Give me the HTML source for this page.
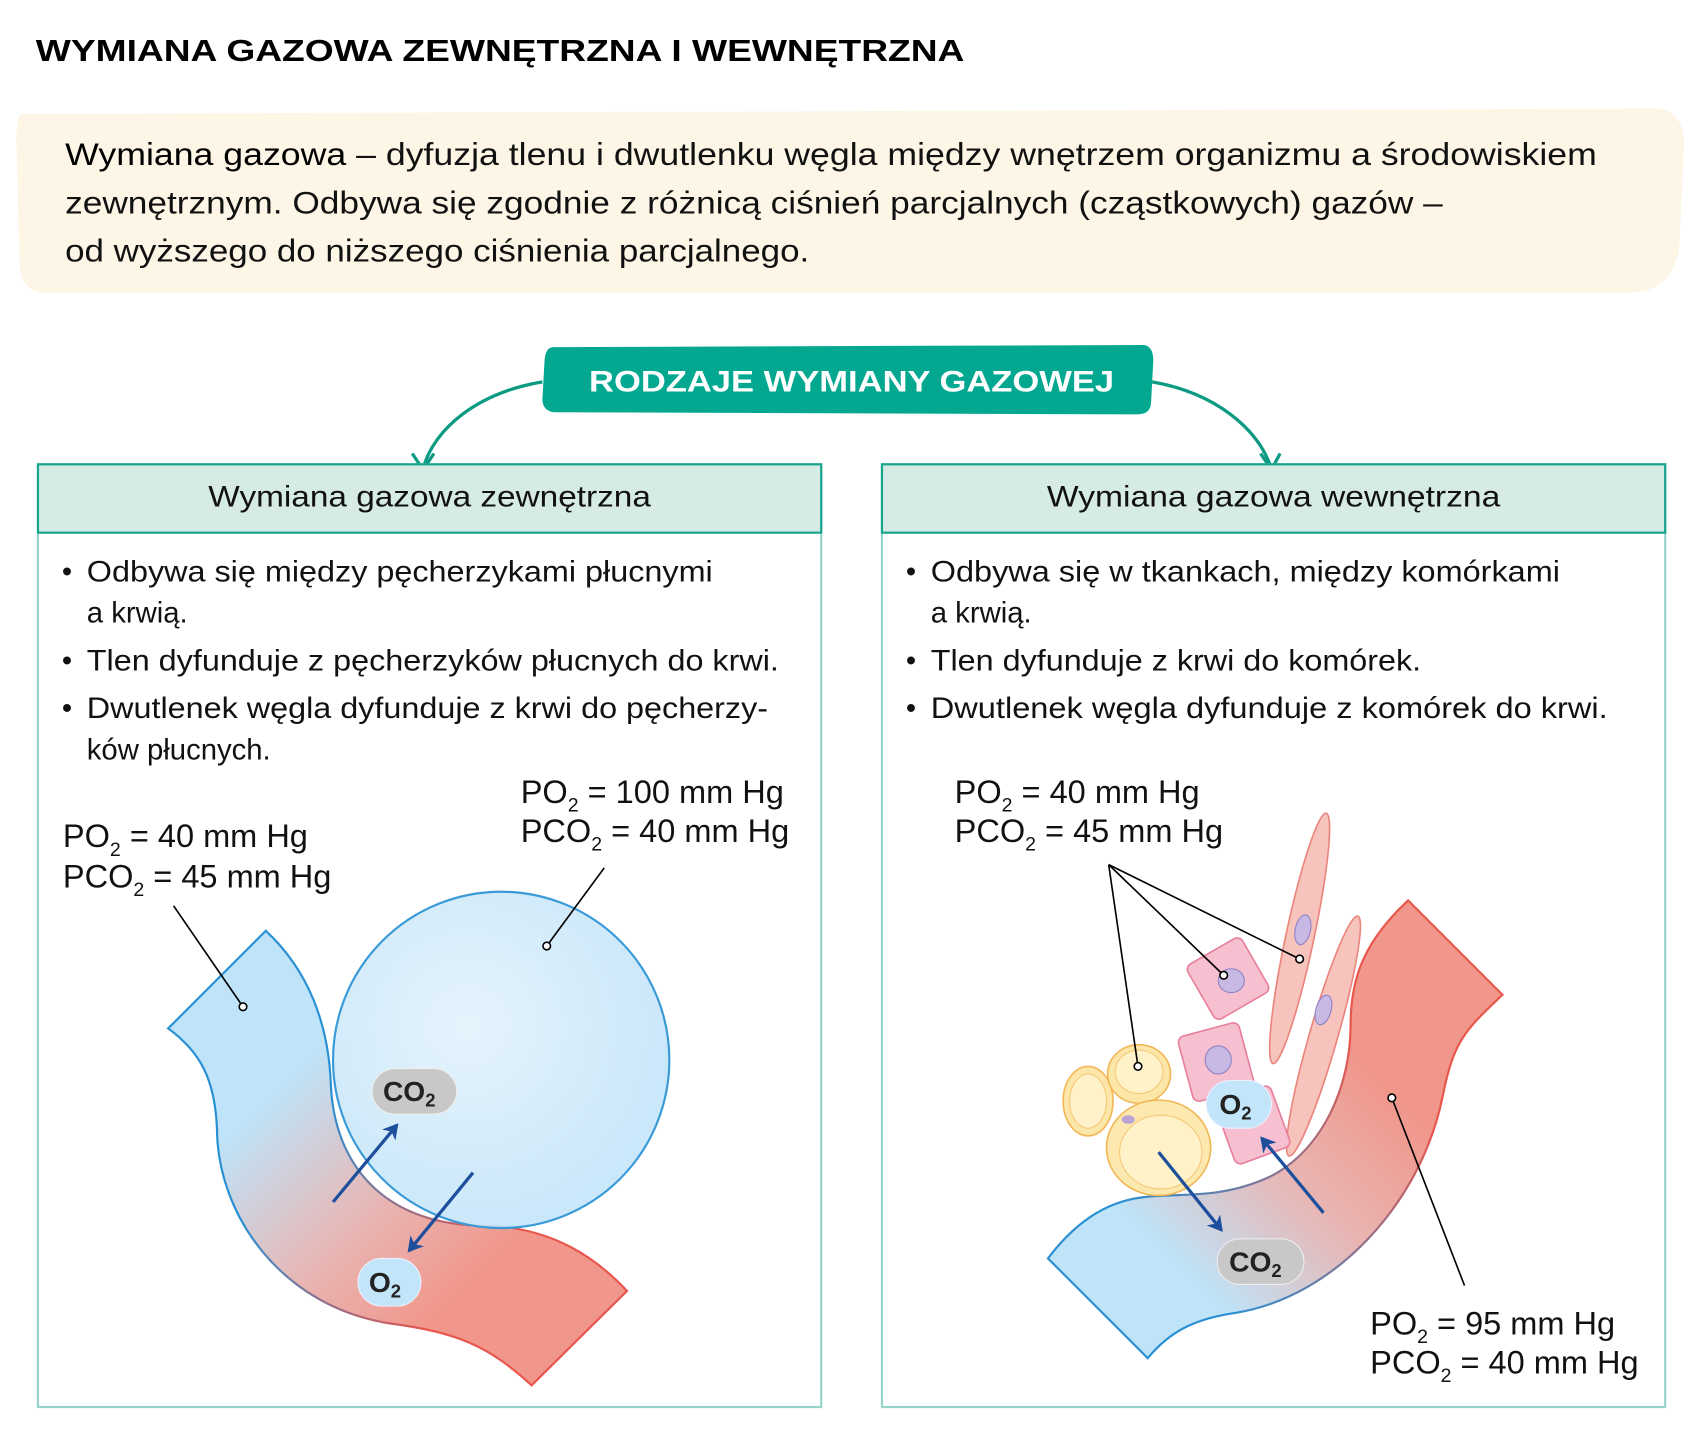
<!DOCTYPE html>
<html><head><meta charset="utf-8"><style>
html,body{margin:0;padding:0;background:#fff;}
svg{display:block;}
text{font-family:"Liberation Sans",sans-serif;}
</style></head><body>
<svg width="1701" height="1450" viewBox="0 0 1568 1336.6" xmlns="http://www.w3.org/2000/svg">
<defs>
<linearGradient id="gL" gradientUnits="userSpaceOnUse" x1="240" y1="1020" x2="420" y2="1200">
<stop offset="0" stop-color="#bfe3f8"/><stop offset="0.55" stop-color="#e8b6b4"/><stop offset="1" stop-color="#f1968a"/></linearGradient>
<linearGradient id="gLs" gradientUnits="userSpaceOnUse" x1="240" y1="1100" x2="400" y2="1220">
<stop offset="0" stop-color="#2a90d4"/><stop offset="1" stop-color="#e8564c"/></linearGradient>
<linearGradient id="gR" gradientUnits="userSpaceOnUse" x1="1110" y1="1190" x2="1290" y2="1010">
<stop offset="0" stop-color="#bfe3f8"/><stop offset="0.5" stop-color="#e8b6b4"/><stop offset="1" stop-color="#f1968a"/></linearGradient>
<linearGradient id="gRs" gradientUnits="userSpaceOnUse" x1="1110" y1="1190" x2="1290" y2="1010">
<stop offset="0" stop-color="#2a90d4"/><stop offset="1" stop-color="#e8564c"/></linearGradient>
<radialGradient id="gC" cx="0.4" cy="0.4" r="0.6"><stop offset="0" stop-color="#e2f2fc"/><stop offset="1" stop-color="#c5e5f9"/></radialGradient>
<marker id="ah2" markerWidth="16" markerHeight="16" refX="12" refY="8" orient="auto" markerUnits="userSpaceOnUse"><path d="M0,0 L14,8 L0,16 L4,8 Z" fill="#1d4f9c"/></marker>
</defs>

<text x="33" y="56" font-size="28" font-weight="bold" fill="#000" textLength="856" lengthAdjust="spacingAndGlyphs">WYMIANA GAZOWA ZEWNĘTRZNA I WEWNĘTRZNA</text>

<path d="M20,105 L1530,100 Q1555,105 1552,140 L1548,230 Q1540,268 1505,270 L40,270 Q20,268 18,245 L15,125 Q16,106 20,105 Z" fill="#fdf6e6"/>
<text x="60" y="152" font-size="29" fill="#111" textLength="1412" lengthAdjust="spacingAndGlyphs"><tspan fill="#000">Wymiana gazowa</tspan> – dyfuzja tlenu i dwutlenku węgla między wnętrzem organizmu a środowiskiem</text>
<text x="60" y="197" font-size="29" fill="#111" textLength="1270" lengthAdjust="spacingAndGlyphs">zewnętrznym. Odbywa się zgodnie z różnicą ciśnień parcjalnych (cząstkowych) gazów –</text>
<text x="60" y="241" font-size="29" fill="#111" textLength="686" lengthAdjust="spacingAndGlyphs">od wyższego do niższego ciśnienia parcjalnego.</text>

<path d="M510,320 L1055,318 Q1064,320 1063,335 L1061,372 Q1060,382 1048,382 L510,380 Q500,378 500,368 L502,332 Q503,320 510,320 Z" fill="#04a890"/>
<text x="785" y="361" font-size="27" font-weight="bold" fill="#fff" text-anchor="middle" textLength="484" lengthAdjust="spacingAndGlyphs">RODZAJE WYMIANY GAZOWEJ</text>
<path d="M500,352 C440,362 400,395 390,432" fill="none" stroke="#0d9a83" stroke-width="3"/>
<path d="M380,418 L390,433 L400,418" fill="none" stroke="#0d9a83" stroke-width="3"/>
<path d="M1062,352 C1120,362 1160,395 1172,432" fill="none" stroke="#0d9a83" stroke-width="3"/>
<path d="M1162,418 L1172,433 L1180,418" fill="none" stroke="#0d9a83" stroke-width="3"/>

<rect x="35" y="428" width="722" height="869" fill="#fff" stroke="#96d3c8" stroke-width="2"/>
<rect x="35" y="428" width="722" height="63" fill="#d6ebe6" stroke="#15a48c" stroke-width="2"/>
<rect x="813" y="428" width="722" height="869" fill="#fff" stroke="#96d3c8" stroke-width="2"/>
<rect x="813" y="428" width="722" height="63" fill="#d6ebe6" stroke="#15a48c" stroke-width="2"/>
<text x="396" y="467" font-size="27" fill="#111" text-anchor="middle" textLength="408" lengthAdjust="spacingAndGlyphs">Wymiana gazowa zewnętrzna</text>
<text x="1174" y="467" font-size="27" fill="#111" text-anchor="middle" textLength="418" lengthAdjust="spacingAndGlyphs">Wymiana gazowa wewnętrzna</text>

<g font-size="27" fill="#111">
<text x="57" y="536">•</text><text x="80" y="536" textLength="577" lengthAdjust="spacingAndGlyphs">Odbywa się między pęcherzykami płucnymi</text>
<text x="80" y="574">a krwią.</text>
<text x="57" y="618">•</text><text x="80" y="618" textLength="638" lengthAdjust="spacingAndGlyphs">Tlen dyfunduje z pęcherzyków płucnych do krwi.</text>
<text x="57" y="662">•</text><text x="80" y="662" textLength="628" lengthAdjust="spacingAndGlyphs">Dwutlenek węgla dyfunduje z krwi do pęcherzy-</text>
<text x="80" y="700">ków płucnych.</text>
<text x="835" y="536">•</text><text x="858" y="536" textLength="580" lengthAdjust="spacingAndGlyphs">Odbywa się w tkankach, między komórkami</text>
<text x="858" y="574">a krwią.</text>
<text x="835" y="618">•</text><text x="858" y="618" textLength="452" lengthAdjust="spacingAndGlyphs">Tlen dyfunduje z krwi do komórek.</text>
<text x="835" y="662">•</text><text x="858" y="662" textLength="624" lengthAdjust="spacingAndGlyphs">Dwutlenek węgla dyfunduje z komórek do krwi.</text>
</g>

<path d="M245,858 C285,895 303,945 305,1000 C308,1070 350,1130 450,1130 C510,1132 550,1160 578,1190 L490,1277 C450,1240 420,1228 360,1220 C260,1205 200,1120 200,1040 C198,995 185,970 155,948 Z" fill="url(#gL)" stroke="url(#gLs)" stroke-width="2"/>
<circle cx="462" cy="977" r="155" fill="url(#gC)" fill-opacity="0.9" stroke="#3a9ad8" stroke-width="2"/>
<line x1="160" y1="835" x2="224" y2="928" stroke="#000" stroke-width="1.5"/>
<circle cx="224" cy="928" r="3.5" fill="#fff" stroke="#000" stroke-width="1.5"/>
<line x1="557" y1="800" x2="504" y2="872" stroke="#000" stroke-width="1.5"/>
<circle cx="504" cy="872" r="3.5" fill="#fff" stroke="#000" stroke-width="1.5"/>
<rect x="343" y="985" width="78" height="42" rx="21" fill="#c8c8c8" stroke="#eee" stroke-width="1"/>
<text x="353" y="1015" font-size="26" font-weight="bold" fill="#222">CO<tspan font-size="17" dy="5">2</tspan></text>
<rect x="330" y="1160" width="58" height="44" rx="22" fill="#c3e5f9" stroke="#eef" stroke-width="1"/>
<text x="340" y="1191" font-size="26" font-weight="bold" fill="#222">O<tspan font-size="17" dy="5">2</tspan></text>
<line x1="307" y1="1108" x2="366" y2="1037" stroke="#1d4f9c" stroke-width="3" marker-end="url(#ah2)"/>
<line x1="436" y1="1081" x2="377" y2="1153" stroke="#1d4f9c" stroke-width="3" marker-end="url(#ah2)"/>

<g font-size="30" fill="#111">
<text x="480" y="740">PO<tspan font-size="18" dy="8">2</tspan><tspan dy="-8"> = 100 mm Hg</tspan></text>
<text x="480" y="776">PCO<tspan font-size="18" dy="8">2</tspan><tspan dy="-8"> = 40 mm Hg</tspan></text>
<text x="58" y="781">PO<tspan font-size="18" dy="8">2</tspan><tspan dy="-8"> = 40 mm Hg</tspan></text>
<text x="58" y="818">PCO<tspan font-size="18" dy="8">2</tspan><tspan dy="-8"> = 45 mm Hg</tspan></text>
<text x="880" y="740">PO<tspan font-size="18" dy="8">2</tspan><tspan dy="-8"> = 40 mm Hg</tspan></text>
<text x="880" y="776">PCO<tspan font-size="18" dy="8">2</tspan><tspan dy="-8"> = 45 mm Hg</tspan></text>
<text x="1263" y="1230">PO<tspan font-size="18" dy="8">2</tspan><tspan dy="-8"> = 95 mm Hg</tspan></text>
<text x="1263" y="1266">PCO<tspan font-size="18" dy="8">2</tspan><tspan dy="-8"> = 40 mm Hg</tspan></text>
</g>

<path d="M1298,830 C1255,870 1245,905 1245,945 C1245,1000 1220,1060 1170,1085 C1120,1108 1080,1098 1045,1105 C1010,1112 985,1135 966,1160 L1058,1252 C1080,1225 1105,1215 1140,1210 C1230,1195 1310,1110 1330,1010 C1340,960 1350,950 1385,917 Z" fill="url(#gR)" stroke="url(#gRs)" stroke-width="2"/>
<ellipse cx="1198" cy="865" rx="13" ry="118" transform="rotate(12 1198 865)" fill="#f7c3bd" stroke="#ea857c" stroke-width="1.5"/>
<ellipse cx="1220" cy="955" rx="13" ry="115" transform="rotate(16 1220 955)" fill="#f7c3bd" stroke="#ea857c" stroke-width="1.5"/>
<ellipse cx="1201" cy="857" rx="7" ry="14" transform="rotate(12 1201 857)" fill="#c7b8e4" stroke="#8f7fc6"/>
<ellipse cx="1220" cy="931" rx="7" ry="14" transform="rotate(16 1220 931)" fill="#c7b8e4" stroke="#8f7fc6"/>
<rect x="1103" y="873" width="58" height="58" rx="6" transform="rotate(-30 1132 902)" fill="#f6c0d0" stroke="#e77f9a" stroke-width="1.5"/>
<ellipse cx="1135" cy="904" rx="12" ry="11" fill="#c7b8e4" stroke="#8f7fc6"/>
<rect x="1092" y="948" width="58" height="62" rx="6" transform="rotate(-15 1121 979)" fill="#f6c0d0" stroke="#e77f9a" stroke-width="1.5"/>
<ellipse cx="1123" cy="977" rx="12" ry="13" fill="#c7b8e4" stroke="#8f7fc6"/>
<rect x="1128" y="1007" width="54" height="60" rx="6" transform="rotate(-20 1155 1037)" fill="#f6c0d0" stroke="#e77f9a" stroke-width="1.5"/>
<ellipse cx="1003" cy="1015" rx="23" ry="32" fill="#fde7a8" stroke="#f2b757" stroke-width="1.5"/>
<ellipse cx="1003" cy="1015" rx="17" ry="25" fill="#fff1c8" stroke="#f5c878"/>
<ellipse cx="1050" cy="990" rx="29" ry="27" fill="#fde7a8" stroke="#f2b757" stroke-width="1.5"/>
<ellipse cx="1050" cy="988" rx="22" ry="20" fill="#fff1c8" stroke="#f5c878"/>
<ellipse cx="1068" cy="1058" rx="48" ry="44" fill="#fde9b0" stroke="#f2b757" stroke-width="1.5"/>
<ellipse cx="1070" cy="1062" rx="38" ry="34" fill="#fff1c8" stroke="#f5c878"/>
<ellipse cx="1040" cy="1032" rx="6" ry="4" fill="#b9a2d4"/>
<line x1="1022" y1="797" x2="1049" y2="983" stroke="#000" stroke-width="1.5"/>
<line x1="1022" y1="797" x2="1128" y2="899" stroke="#000" stroke-width="1.5"/>
<line x1="1022" y1="797" x2="1198" y2="884" stroke="#000" stroke-width="1.5"/>
<circle cx="1049" cy="983" r="3.5" fill="#fff" stroke="#000" stroke-width="1.5"/>
<circle cx="1128" cy="899" r="3.5" fill="#fff" stroke="#000" stroke-width="1.5"/>
<circle cx="1198" cy="884" r="3.5" fill="#fff" stroke="#000" stroke-width="1.5"/>
<line x1="1350" y1="1185" x2="1283" y2="1012" stroke="#000" stroke-width="1.5"/>
<circle cx="1283" cy="1012" r="3.5" fill="#fff" stroke="#000" stroke-width="1.5"/>
<rect x="1112" y="996" width="60" height="44" rx="22" fill="#c3e5f9" stroke="#eef" stroke-width="1"/>
<text x="1124" y="1027" font-size="26" font-weight="bold" fill="#222">O<tspan font-size="17" dy="5">2</tspan></text>
<rect x="1122" y="1142" width="80" height="42" rx="21" fill="#c8c8c8" stroke="#eee" stroke-width="1"/>
<text x="1133" y="1172" font-size="26" font-weight="bold" fill="#222">CO<tspan font-size="17" dy="5">2</tspan></text>
<line x1="1068" y1="1062" x2="1126" y2="1134" stroke="#1d4f9c" stroke-width="3" marker-end="url(#ah2)"/>
<line x1="1220" y1="1118" x2="1163" y2="1049" stroke="#1d4f9c" stroke-width="3" marker-end="url(#ah2)"/>
</svg>
</body></html>
